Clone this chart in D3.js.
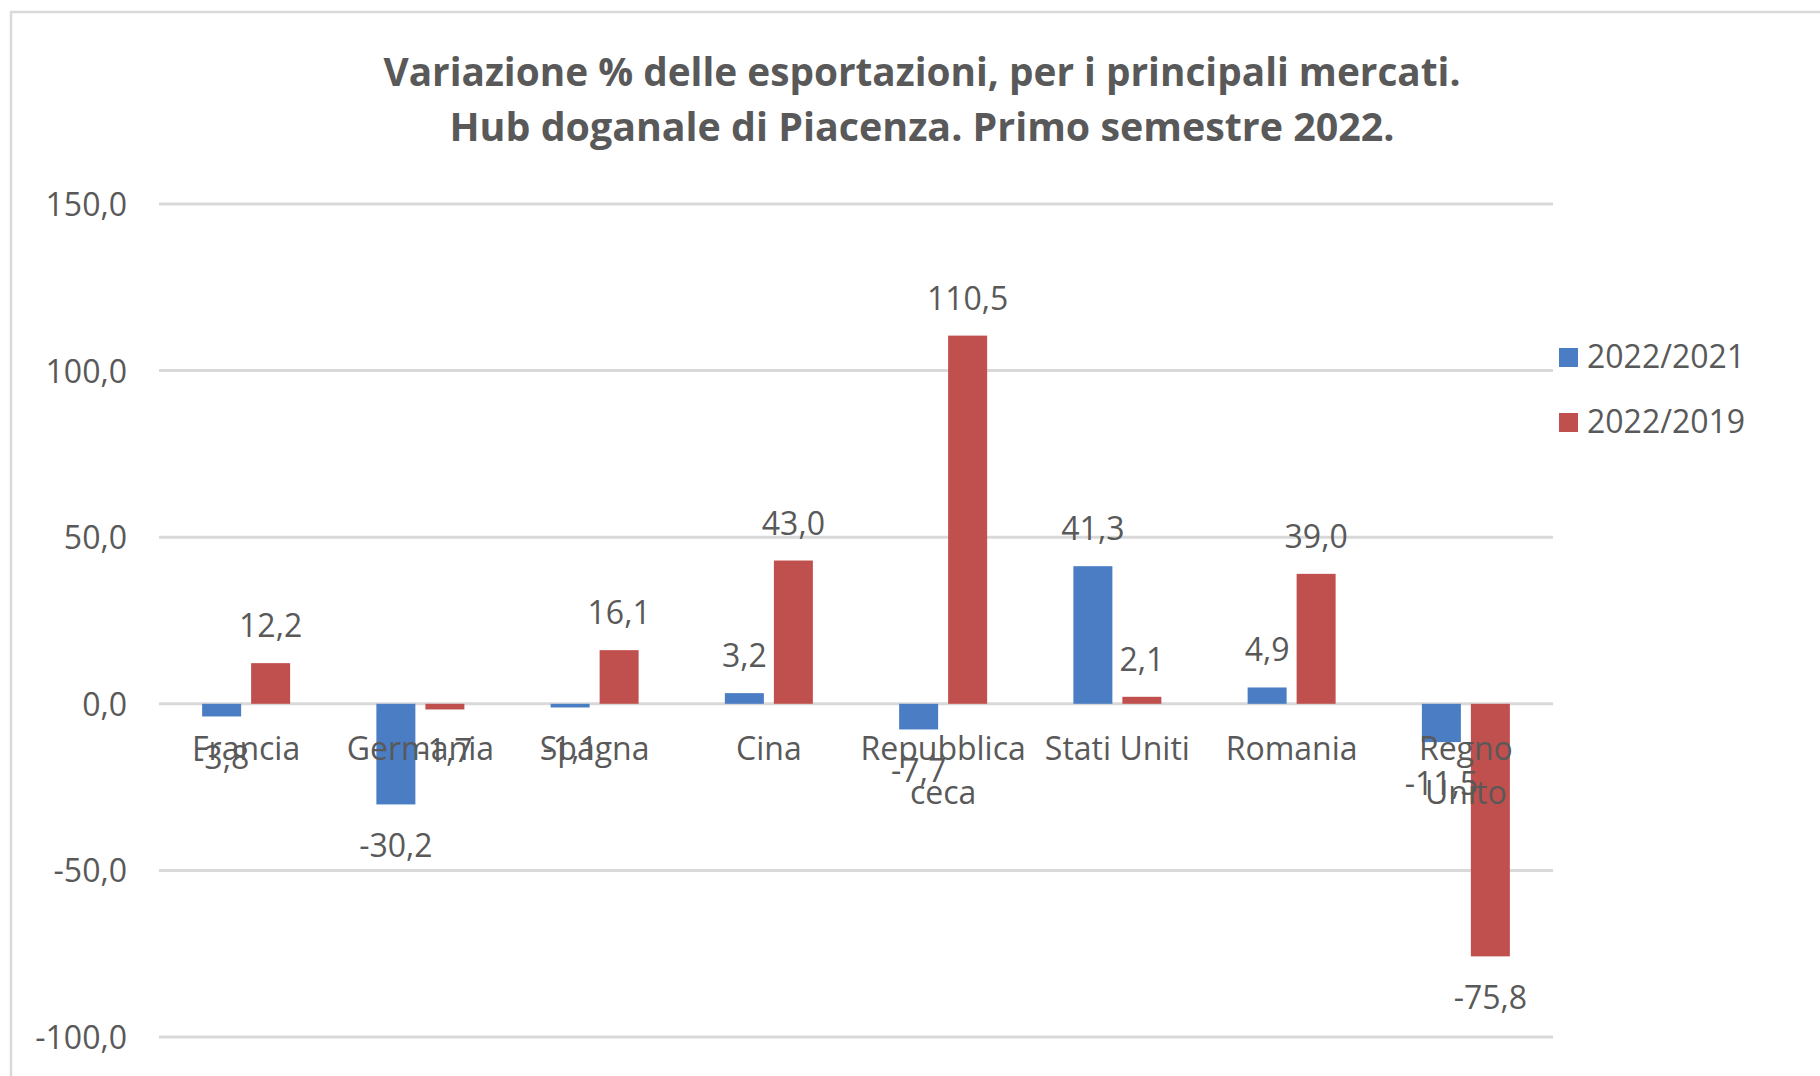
<!DOCTYPE html>
<html lang="it">
  <head>
    <meta charset="utf-8">
    <title>Variazione % delle esportazioni</title>
    <script src="https://d3js.org/d3.v7.min.js"></script>
    <style>
      body { margin: 0; background: white; }
      text { font-family: "Open Sans", sans-serif; fill: #595959; }
    </style>
  </head>
  <body>
    <svg width="1820" height="1076"></svg>
    <script>
      // data
      var categories = [["Francia"], ["Germania"], ["Spagna"], ["Cina"],
        ["Repubblica", "ceca"], ["Stati Uniti"], ["Romania"], ["Regno", "Unito"]];
      var seriesNames = ["2022/2021", "2022/2019"];
      var values2021 = [-3.8, -30.2, -1.1, 3.2, -7.7, 41.3, 4.9, -11.5];
      var values2019 = [12.2, -1.7, 16.1, 43.0, 110.5, 2.1, 39.0, -75.8];
      var yTicks = [-100, -50, 0, 50, 100, 150];
      var colors = ["#4a7dc4", "#c0504d"];

      var svg = d3.select("svg");
      // italian decimal comma, plain hyphen for minus
      var fmt = function(v) { return d3.format(".1f")(v).replace(".", ",").replace("\u2212", "-"); };

      // frame
      svg.append("path").attr("d", "M11,1076 L11,12 L1820,12")
        .attr("fill", "none").attr("stroke", "#d9d9d9").attr("stroke-width", 2.5);

      // title
      var title = ["Variazione % delle esportazioni, per i principali mercati.",
        "Hub doganale di Piacenza. Primo semestre 2022."];
      var titleLen = [1077, 945];
      svg.selectAll(".title").data(title).enter().append("text")
        .attr("class", "title")
        .attr("x", 922).attr("y", function(d, i) { return 86 + i * 55; })
        .attr("text-anchor", "middle")
        .attr("font-size", 40).attr("font-weight", "bold")
        .attr("textLength", function(d, i) { return titleLen[i]; })
        .attr("lengthAdjust", "spacingAndGlyphs")
        .text(function(d) { return d; });

      var y = d3.scaleLinear().domain([-100, 150]).range([1037, 204]);
      var x0 = d3.scaleBand().domain(d3.range(categories.length))
        .range([159, 1553]).paddingInner(0.495).paddingOuter(0.2475);
      var x1 = d3.scaleBand().domain(seriesNames)
        .range([0, x0.bandwidth()]).paddingInner(0.204);

      // gridlines
      svg.append("g").selectAll("line").data(yTicks).enter().append("line")
        .attr("x1", 159).attr("x2", 1553)
        .attr("y1", function(d) { return y(d); }).attr("y2", function(d) { return y(d); })
        .attr("stroke", "#d9d9d9").attr("stroke-width", 3);

      // y axis labels
      var yAxis = svg.append("g").attr("transform", "translate(127,0)")
        .call(d3.axisLeft(y).tickValues(yTicks).tickFormat(fmt).tickSize(0).tickPadding(0));
      yAxis.select(".domain").remove();
      yAxis.selectAll("text").attr("font-size", 32).attr("font-family", null)
        .attr("fill", "#595959").attr("dy", "0.36em");

      var rows = categories.map(function(c, i) {
        return { i: i, vals: [values2021[i], values2019[i]] };
      });

      var groups = svg.append("g").selectAll("g").data(rows).enter().append("g")
        .attr("transform", function(d) { return "translate(" + x0(d.i) + ",0)"; });

      // bars
      groups.selectAll("rect").data(function(d) {
        return d.vals.map(function(v, k) { return { s: seriesNames[k], k: k, v: v }; });
      }).enter().append("rect")
        .attr("x", function(d) { return x1(d.s); })
        .attr("width", x1.bandwidth())
        .attr("y", function(d) { return y(Math.max(0, d.v)); })
        .attr("height", function(d) { return Math.abs(y(d.v) - y(0)); })
        .attr("fill", function(d) { return colors[d.k]; });

      // category labels
      groups.append("text")
        .attr("x", x0.bandwidth() / 2).attr("y", 760)
        .attr("text-anchor", "middle").attr("font-size", 32)
        .selectAll("tspan").data(function(d) { return categories[d.i]; }).enter()
        .append("tspan")
        .attr("x", x0.bandwidth() / 2)
        .attr("dy", function(d, j) { return j == 0 ? 0 : 44; })
        .text(function(d) { return d; });

      // value labels
      groups.selectAll(".val").data(function(d) {
        return d.vals.map(function(v, k) { return { s: seriesNames[k], k: k, v: v }; });
      }).enter().append("text")
        .attr("class", "val")
        .attr("x", function(d) { return x1(d.s) + x1.bandwidth() / 2; })
        .attr("y", function(d) { return d.v >= 0 ? y(d.v) - 26 : y(d.v) + 53; })
        .attr("text-anchor", "middle").attr("font-size", 32)
        .text(function(d) { return fmt(d.v); });

      // legend
      var legend = svg.append("g").selectAll("g").data(seriesNames).enter().append("g")
        .attr("transform", function(d, i) { return "translate(1559," + (348 + i * 65) + ")"; });
      legend.append("rect").attr("width", 19).attr("height", 19)
        .attr("fill", function(d, i) { return colors[i]; });
      legend.append("text").attr("x", 28).attr("y", 20)
        .attr("font-size", 32).text(function(d) { return d; });
    </script>
  </body>
</html>
